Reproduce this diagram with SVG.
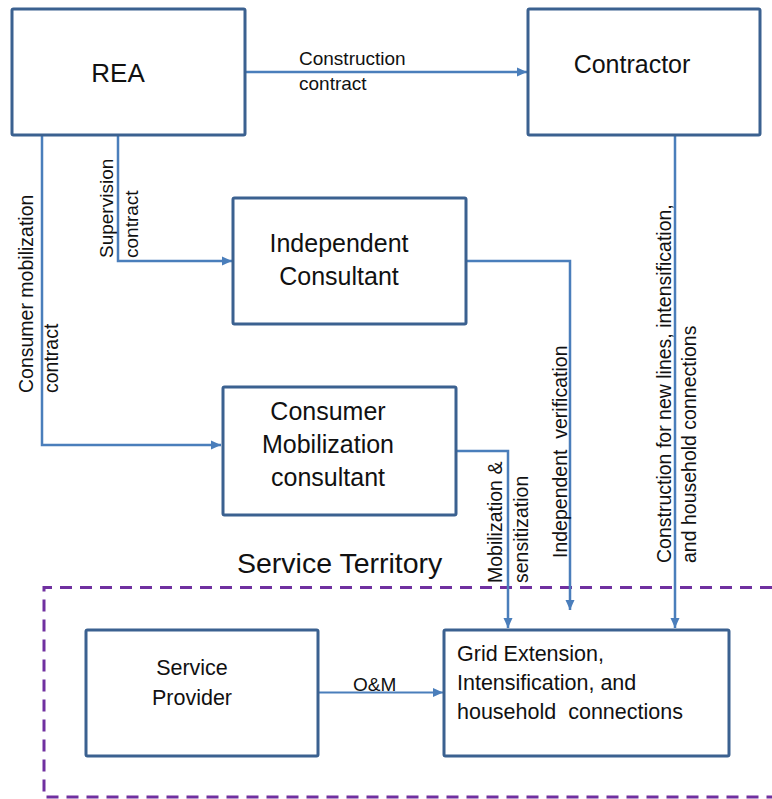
<svg xmlns="http://www.w3.org/2000/svg" width="772" height="799" viewBox="0 0 772 799">
  <style>
    .box { fill: #ffffff; stroke: #3b6190; stroke-width: 3; }
    .conn { fill: none; stroke: #4a7ebb; stroke-width: 2.5; }
    .thin { stroke-width: 2; }
    .zone { fill: none; stroke: #7030a0; stroke-width: 3; stroke-dasharray: 12 8; }
    text { font-family: "Liberation Sans", Arial, sans-serif; fill: #111111; }
    .big { font-size: 26px; }
    .node { font-size: 25px; }
    .small { font-size: 21.5px; }
    .lbl { font-size: 19px; }
    .vlbl { font-size: 19.5px; }
    .c { text-anchor: middle; }
  </style>
  <defs>
    <marker id="arrow" markerUnits="userSpaceOnUse" markerWidth="10" markerHeight="10" viewBox="0 0 10 10" refX="10" refY="5" orient="auto">
      <path d="M0,0.5 L10,5 L0,9.5 z" fill="#4a7ebb"/>
    </marker>
  </defs>

  <!-- service territory boundary -->
  <g id="service-territory">
    <path class="zone" d="M772,587.5 H44 V797 H772"/>
    <text x="237" y="573" style="font-size:28.5px">Service Territory</text>
  </g>

  <!-- connectors -->
  <g id="connectors">
    <path class="conn" d="M245,72 H527" marker-end="url(#arrow)"/>
    <path class="conn" d="M118,135 V261 H232" marker-end="url(#arrow)"/>
    <path class="conn" d="M42,135 V445 H221" marker-end="url(#arrow)"/>
    <path class="conn" d="M466,261 H570 V610" marker-end="url(#arrow)"/>
    <path class="conn" d="M456,451 H508 V628" marker-end="url(#arrow)"/>
    <path class="conn" d="M675,135 V628" marker-end="url(#arrow)"/>
    <path class="conn thin" d="M318,692.5 H443" marker-end="url(#arrow)"/>

    <text class="lbl" x="299" y="65">Construction</text>
    <text class="lbl" x="299" y="90">contract</text>

    <text class="lbl" transform="translate(113,258) rotate(-90)">Supervision</text>
    <text class="lbl" transform="translate(138,258) rotate(-90)">contract</text>

    <text class="vlbl" transform="translate(33,393) rotate(-90)">Consumer mobilization</text>
    <text class="vlbl" transform="translate(58,393) rotate(-90)">contract</text>

    <text class="vlbl" transform="translate(567,558) rotate(-90)" xml:space="preserve">Independent  verification</text>

    <text class="vlbl" transform="translate(502,583) rotate(-90)">Mobilization &amp;</text>
    <text class="vlbl" transform="translate(528,583) rotate(-90)">sensitization</text>

    <text class="vlbl" transform="translate(671,563) rotate(-90)">Construction for new lines, intensification,</text>
    <text class="vlbl" transform="translate(696,563) rotate(-90)">and household connections</text>

    <text class="lbl" x="353" y="690.5">O&amp;M</text>
  </g>

  <g id="rea">
    <rect class="box" x="12" y="9" width="233" height="126" rx="1.5"/>
    <text class="big c" x="118" y="82">REA</text>
  </g>

  <g id="contractor">
    <rect class="box" x="528" y="9" width="232" height="126" rx="1.5"/>
    <text class="node c" x="632" y="73">Contractor</text>
  </g>

  <g id="independent-consultant">
    <rect class="box" x="233" y="198" width="233" height="126" rx="1.5"/>
    <text class="node c" x="339" y="252">Independent</text>
    <text class="node c" x="339" y="285">Consultant</text>
  </g>

  <g id="consumer-mobilization-consultant">
    <rect class="box" x="223" y="387" width="233" height="128" rx="1.5"/>
    <text class="node c" x="328" y="420">Consumer</text>
    <text class="node c" x="328" y="453">Mobilization</text>
    <text class="node c" x="328" y="486">consultant</text>
  </g>

  <g id="service-provider">
    <rect class="box" x="86" y="630" width="232" height="126" rx="1.5"/>
    <text class="small c" x="192" y="675">Service</text>
    <text class="small c" x="192" y="705">Provider</text>
  </g>

  <g id="grid-extension">
    <rect class="box" x="444" y="630" width="285" height="126" rx="1.5"/>
    <text class="small" x="457" y="661">Grid Extension,</text>
    <text class="small" x="457" y="690">Intensification, and</text>
    <text class="small" x="457" y="719" xml:space="preserve">household  connections</text>
  </g>
</svg>
